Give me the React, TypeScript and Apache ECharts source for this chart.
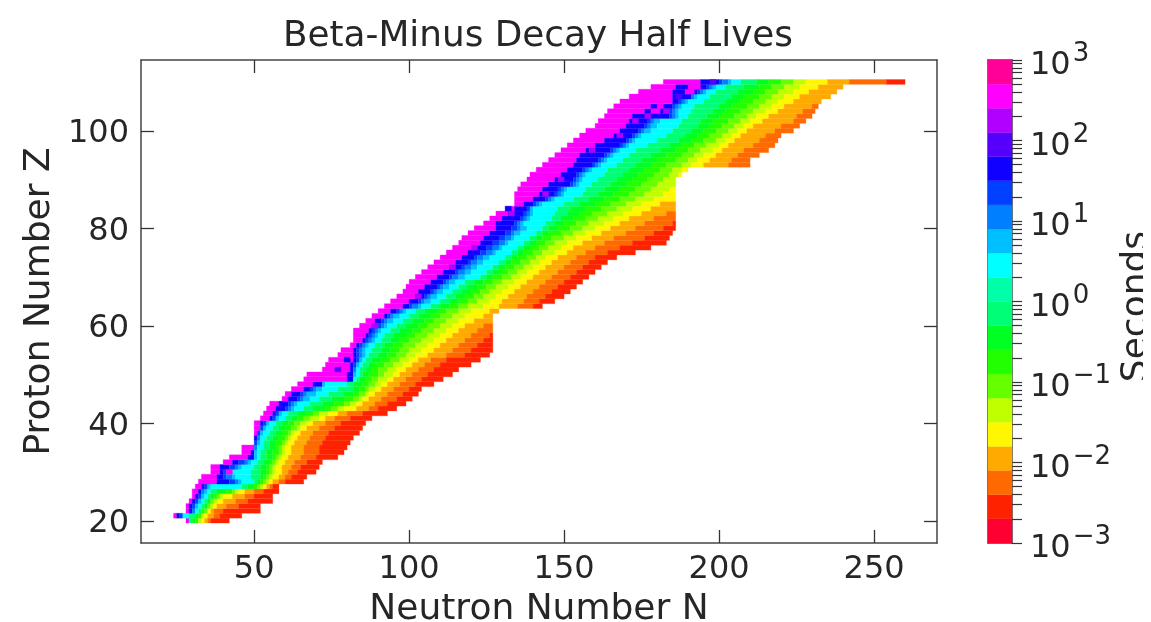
import React, { useEffect, useRef } from "react";
import * as echarts from "echarts";

const TITLE = "Beta-Minus Decay Half Lives";
const X_NAME = "Neutron Number N";
const Y_NAME = "Proton Number Z";
const BAR_NAME = "Seconds";
const X_TICKS = [50, 100, 150, 200, 250];
const Y_TICKS = [20, 40, 60, 80, 100];
const BAR_DECADES = [-3, -2, -1, 0, 1, 2, 3];
const BAR_TICK_VALUES = [
  1e-3, 2e-3, 3e-3, 4e-3, 5e-3, 6e-3, 7e-3, 8e-3, 9e-3, 1e-2, 2e-2, 3e-2, 4e-2, 5e-2, 6e-2, 7e-2, 8e-2, 9e-2, 1e-1, 2e-1,
  3e-1, 4e-1, 5e-1, 6e-1, 7e-1, 8e-1, 9e-1, 1, 2, 3, 4, 5, 6, 7, 8, 9, 10, 20, 30, 40, 50, 60, 70, 80, 90, 100, 200, 300,
  400, 500, 600, 700, 800, 900, 1000,
];
// Colour levels of the bar, bottom to top
const LEVEL_COLORS = [
  "#ff0033", "#ff2200", "#ff6a00", "#ffaa00", "#fff700", "#bfff00", "#66ff00", "#22ff00", "#00ff22", "#00ff77",
  "#00ffa8", "#00ffff", "#00bfff", "#0080ff", "#0040ff", "#1000ff", "#5500ff", "#b000ff", "#ff00ff", "#ff0099",
];
// Levels that appear along a row, from the cold side (long-lived) to the hot side
const ROW_LEVELS = [18, 15, 14, 13, 12, 11, 9, 8, 7, 6, 5, 4, 3, 2, 1];
const FIRST_Z = 20;
// One row per proton number: the neutron numbers at which each level of ROW_LEVELS begins, then the row's end
const ROW_EDGES = [
  [28,29,29,29,29,29,29,30,31,32,32,33,34,35,36,42],
  [24,25,26,27,27,27,29,31,32,33,33,34,35,37,39,46],
  [28,29,30,30,31,31,32,33,33,34,35,35,36,37,40,52],
  [28,29,30,31,31,32,33,34,35,35,36,37,38,41,45,52],
  [29,30,31,32,32,33,34,35,36,36,37,38,40,44,48,56],
  [30,31,32,33,33,34,35,36,37,38,39,40,43,47,50,56],
  [30,32,33,33,34,35,36,38,41,43,44,45,47,50,53,58],
  [31,33,34,35,35,36,46,48,50,51,52,53,54,55,56,58],
  [32,38,42,44,45,46,50,51,52,53,54,55,56,58,60,66],
  [33,38,40,41,43,44,49,52,53,54,55,56,58,60,62,67],
  [36,39,40,41,41,43,49,52,54,55,56,57,59,61,64,70],
  [36,39,42,44,45,46,50,52,54,55,56,57,59,62,65,71],
  [40,43,45,47,48,49,51,53,55,56,57,58,60,63,67,72],
  [42,48,50,50,50,51,52,54,56,57,58,59,61,65,70,77],
  [46,49,50,50,50,51,52,54,56,58,59,60,62,66,71,79],
  [46,50,50,50,51,51,53,55,57,58,59,60,62,66,71,80],
  [50,50,50,51,51,52,53,55,57,59,60,61,63,67,72,81],
  [50,50,51,51,52,52,54,56,58,60,61,62,64,68,73,82],
  [50,51,51,52,52,53,55,57,59,61,62,63,65,69,74,84],
  [50,52,52,53,53,54,56,58,60,62,64,65,67,71,76,85],
  [50,52,53,54,54,55,57,59,61,63,65,67,69,73,78,86],
  [52,55,56,57,57,58,60,62,64,66,68,71,73,76,81,88],
  [53,56,57,58,58,59,61,64,67,69,71,74,77,80,85,93],
  [54,57,60,61,62,63,66,69,73,75,77,79,83,87,90,96],
  [55,58,61,62,63,64,68,72,76,79,81,83,85,89,93,99],
  [59,61,64,65,66,68,71,75,79,82,84,85,87,91,96,101],
  [60,62,65,66,67,70,74,79,82,84,86,87,89,93,98,103],
  [62,66,68,69,70,72,77,82,84,86,87,89,91,95,100,104],
  [64,69,72,72,72,73,80,82,85,87,89,91,93,97,102,108],
  [66,80,82,82,82,82,83,84,86,88,90,93,95,99,104,111],
  [67,80,82,82,82,83,84,85,87,90,92,95,97,101,106,114],
  [72,81,82,82,83,83,84,86,88,90,93,96,99,103,108,116],
  [73,81,82,83,83,84,85,87,89,92,95,98,101,105,110,120],
  [74,82,83,84,84,85,86,88,91,94,97,100,103,107,112,123],
  [77,82,83,84,85,86,87,90,93,96,99,102,106,112,118,126],
  [78,82,83,84,85,86,88,91,94,97,100,104,108,114,120,127],
  [81,83,84,85,86,87,89,92,95,98,102,106,110,116,122,127],
  [82,85,86,87,88,89,91,94,97,100,104,108,112,118,124,127],
  [82,86,87,88,89,90,92,95,99,102,106,110,114,120,126,127],
  [82,87,88,89,90,91,94,97,101,104,108,112,116,122,127,127],
  [84,88,90,91,92,93,96,99,103,106,110,114,118,124,127,127],
  [86,89,91,92,93,95,98,101,105,108,112,116,121,127,127,127],
  [88,92,93,94,95,97,100,103,107,110,114,118,124,127,127,127],
  [90,94,96,97,98,99,102,105,109,112,116,120,126,129,129,129],
  [92,98,100,101,103,104,107,110,113,116,119,124,129,135,140,143],
  [94,100,103,104,105,107,110,113,116,119,122,126,130,137,142,147],
  [96,102,105,106,107,109,112,115,118,121,124,128,132,138,144,150],
  [98,103,107,108,109,111,114,117,120,123,126,130,134,140,146,152],
  [99,105,109,110,111,113,116,119,122,125,128,132,136,142,148,154],
  [100,107,111,112,113,115,118,121,124,127,130,134,138,144,150,156],
  [102,109,113,114,116,118,123,125,127,130,133,136,140,146,152,158],
  [104,111,115,116,118,120,125,127,129,132,135,138,142,148,154,160],
  [106,113,117,118,120,122,127,129,131,134,137,140,144,150,156,162],
  [108,115,119,120,122,124,129,131,133,136,139,142,146,152,158,164],
  [110,117,121,122,124,126,131,133,135,138,141,144,148,154,160,167],
  [112,119,123,125,127,128,133,135,137,140,143,147,151,157,164,173],
  [114,121,125,127,129,130,135,137,139,142,145,149,153,160,168,178],
  [116,123,127,129,131,132,137,139,141,144,147,151,156,163,172,183],
  [117,124,129,131,133,134,139,141,143,146,150,154,159,166,176,184],
  [119,126,131,133,134,136,141,143,145,149,153,157,162,170,179,185],
  [121,128,133,135,136,138,143,145,148,152,156,160,165,173,182,186],
  [124,128,134,135,136,137,144,147,150,154,158,163,168,176,185,186],
  [126,130,136,137,138,139,146,149,153,157,161,166,171,179,186,186],
  [128,132,137,138,139,140,147,151,155,159,164,169,175,183,186,186],
  [131,134,138,139,139,140,148,152,157,162,167,172,178,186,186,186],
  [134,137,140,141,142,143,150,155,160,165,170,175,181,186,186,186],
  [134,140,144,145,146,147,153,158,163,168,173,179,186,186,186,186],
  [134,142,147,148,149,150,156,161,166,171,176,182,186,186,186,186],
  [135,143,148,149,150,151,157,163,168,173,178,184,186,186,186,186],
  [136,145,152,153,154,155,159,165,170,175,180,186,186,186,186,186],
  [138,147,153,154,155,156,161,167,172,177,182,186,186,186,186,186],
  [139,149,154,155,156,157,163,169,174,179,184,187,188,188,188,188],
  [141,151,156,157,158,159,164,171,176,181,185,188,190,190,190,190],
  [143,153,159,160,161,162,167,173,178,183,188,191,195,203,210,210],
  [145,154,161,162,163,164,169,175,180,186,190,193,197,204,210,210],
  [147,155,163,164,165,166,171,178,183,188,192,195,199,206,213,213],
  [149,157,165,166,167,168,173,181,186,190,194,198,201,208,216,216],
  [151,160,168,169,170,171,177,184,188,192,196,200,203,211,218,218],
  [153,163,170,171,172,173,180,187,191,195,199,202,205,213,219,219],
  [155,166,172,173,174,175,183,189,193,197,201,204,207,215,220,220],
  [157,168,174,175,176,178,185,191,195,199,203,206,209,218,224,224],
  [160,170,176,177,178,180,187,193,197,201,205,208,211,220,226,226],
  [161,171,177,178,179,181,188,194,198,203,207,210,214,224,228,228],
  [163,172,184,185,186,187,190,196,200,205,209,212,216,225,230,230],
  [164,176,184,185,186,187,191,198,202,207,211,215,219,227,231,231],
  [166,178,185,186,187,188,192,200,204,209,213,217,221,230,232,232],
  [168,185,187,188,189,190,195,202,206,211,215,219,224,233,233,233],
  [171,185,191,191,192,193,197,204,208,213,217,221,226,236,236,236],
  [174,185,193,194,195,196,199,206,211,215,219,224,229,238,238,238],
  [178,186,196,197,198,199,202,208,213,217,221,226,232,240,240,240],
  [182,194,200,201,203,204,207,212,216,220,224,228,235,242,254,260],
];
// Isolated cells whose level breaks the row's order: [first N, end N, Z, level]
const STRAY_CELLS = [
  [189,192,108,18],[190,194,109,18],[180,182,105,18],[178,181,104,18],[182,184,104,17],[176,178,103,17],
  [172,174,102,17],[167,169,99,17],[158,160,96,17],[148,150,90,17],[143,145,87,17],[131,133,84,15],
  [132,134,83,17],[186,188,107,16],[197,199,110,16],[120,122,76,17],[113,115,72,17],[102,104,66,17],
  [88,90,60,17],[79,81,53,15],[76,78,51,16],[41,43,30,18],
];

const FONT = "DejaVu Sans";
const TEXT = "#262626";
const LINE = "#444444";

const runs: number[][] = [];
ROW_EDGES.forEach((edges, r) => {
  ROW_LEVELS.forEach((level, i) => {
    if (edges[i + 1] > edges[i]) runs.push([edges[i], edges[i + 1], FIRST_Z + r, level]);
  });
});
STRAY_CELLS.forEach((c) => runs.push(c));
const barLevels = LEVEL_COLORS.map((_, i) => [0, 1, -3 + i * 0.3, -3 + (i + 1) * 0.3, i]);

const rectItem = (x0: number[], x1: number[], fill: string) => ({
  type: "rect",
  shape: { x: x0[0], y: x1[1], width: x1[0] - x0[0], height: x0[1] - x1[1] },
  style: { fill, stroke: fill, lineWidth: 0.3 },
});

export default function App() {
  const ref = useRef<HTMLDivElement>(null);
  useEffect(() => {
    const chart = echarts.init(ref.current!, null, { renderer: "svg" });
    const axisLine = { show: true, onZero: false, lineStyle: { color: LINE, width: 1.5 } };
    const tick = (values: number[], length = 13) => ({
      show: true,
      inside: true,
      length,
      customValues: values,
      lineStyle: { color: "#333", width: 1.3 },
    });
    const xRange = { type: "value", min: 13.5, max: 270.3, splitLine: { show: false } };
    const yRange = { type: "value", min: 15.5, max: 114.6, splitLine: { show: false } };
    const nameText = { fontFamily: FONT, fontSize: 36, lineHeight: 26, color: TEXT };
    const barLog = BAR_TICK_VALUES.map((v) => Math.log10(v));
    chart.setOption({
      animation: false,
      backgroundColor: "#ffffff",
      title: {
        text: TITLE,
        left: 525,
        top: 2,
        textAlign: "center",
        textStyle: { fontFamily: FONT, fontSize: 35.8, fontWeight: "normal", color: TEXT },
      },
      grid: [
        { left: 133, top: 52, width: 796, height: 483, outerBoundsMode: "none" },
        { left: 980, top: 52, width: 24, height: 483, outerBoundsMode: "none" },
      ],
      xAxis: [
        {
          ...xRange,
          gridIndex: 0,
          position: "bottom",
          axisLine,
          axisTick: tick(X_TICKS),
          axisLabel: { customValues: X_TICKS, margin: 8, fontFamily: FONT, fontSize: 32, color: TEXT },
          name: X_NAME,
          nameLocation: "middle",
          nameGap: 50,
          nameTextStyle: nameText,
        },
        {
          ...xRange,
          gridIndex: 0,
          position: "top",
          axisLine,
          axisTick: tick(X_TICKS),
          axisLabel: { show: false },
        },
        { type: "value", min: 0, max: 1, gridIndex: 1, position: "bottom", axisLine, axisTick: { show: false }, axisLabel: { show: false }, splitLine: { show: false } },
        { type: "value", min: 0, max: 1, gridIndex: 1, position: "top", axisLine, axisTick: { show: false }, axisLabel: { show: false }, splitLine: { show: false } },
      ],
      yAxis: [
        {
          ...yRange,
          gridIndex: 0,
          position: "left",
          axisLine,
          axisTick: tick(Y_TICKS),
          axisLabel: { customValues: Y_TICKS, margin: 12, fontFamily: FONT, fontSize: 32, color: TEXT },
          name: Y_NAME,
          nameLocation: "middle",
          nameGap: 92,
          nameTextStyle: nameText,
        },
        {
          ...yRange,
          gridIndex: 0,
          position: "right",
          axisLine,
          axisTick: tick(Y_TICKS),
          axisLabel: { show: false },
        },
        {
          type: "value",
          min: -3,
          max: 3,
          gridIndex: 1,
          position: "left",
          axisLine,
          axisTick: { show: false },
          axisLabel: { show: false },
          splitLine: { show: false },
        },
        {
          type: "value",
          min: -3,
          max: 3,
          gridIndex: 1,
          position: "right",
          axisLine,
          axisTick: { show: true, inside: false, length: 10, customValues: barLog, lineStyle: { color: "#333", width: 1.2 } },
          axisLabel: {
            customValues: BAR_DECADES,
            margin: 18,
            fontFamily: FONT,
            fontSize: 32,
            color: TEXT,
            align: "left",
            formatter: (v: number) => `{b|10}{s|${v < 0 ? "\u2212" + -v : v}}`,
            rich: {
              b: { fontFamily: FONT, fontSize: 32, color: TEXT, padding: [6, 0, 0, 0] },
              s: { fontFamily: FONT, fontSize: 26, color: TEXT, padding: [0, 0, 16, 2] },
            },
          },
          splitLine: { show: false },
          name: BAR_NAME,
          nameLocation: "middle",
          nameRotate: 90,
          nameGap: 108,
          nameTextStyle: { ...nameText, padding: [0, 10, 0, 0] },
        },
      ],
      series: [
        {
          type: "custom",
          xAxisIndex: 0,
          yAxisIndex: 0,
          coordinateSystem: "cartesian2d",
          data: runs,
          encode: { x: [0, 1], y: 2 },
          silent: true,
          renderItem: (_: any, api: any) => {
            const z = api.value(2);
            return rectItem(
              api.coord([api.value(0), z - 0.4]),
              api.coord([api.value(1), z + 0.6]),
              LEVEL_COLORS[api.value(3)]
            );
          },
        },
        {
          type: "custom",
          xAxisIndex: 2,
          yAxisIndex: 3,
          coordinateSystem: "cartesian2d",
          data: barLevels,
          encode: { x: [0, 1], y: [2, 3] },
          silent: true,
          renderItem: (_: any, api: any) =>
            rectItem(
              api.coord([api.value(0), api.value(2)]),
              api.coord([api.value(1), api.value(3)]),
              LEVEL_COLORS[api.value(4)]
            ),
        },
      ],
    });
    return () => chart.dispose();
  }, []);
  return <div ref={ref} style={{ width: 1143, height: 614, filter: "blur(0.5px)" }} />;
}
